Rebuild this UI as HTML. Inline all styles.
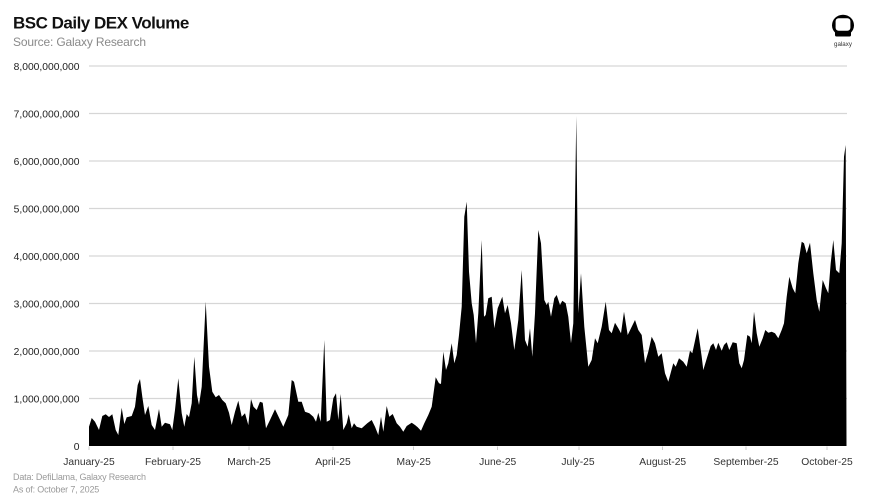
<!DOCTYPE html>
<html>
<head>
<meta charset="utf-8">
<style>
  html, body { margin: 0; padding: 0; background: #ffffff; }
  body { width: 875px; height: 500px; overflow: hidden; }
  svg { display: block; }
  text { font-family: "Liberation Sans", Arial, sans-serif; }
</style>
</head>
<body>
<svg width="875" height="500" viewBox="0 0 875 500" xmlns="http://www.w3.org/2000/svg">
  <rect x="0" y="0" width="875" height="500" fill="#ffffff"/>

  <!-- Title -->
  <text x="13" y="28.5" font-size="17" font-weight="bold" letter-spacing="-0.5" fill="#111111">BSC Daily DEX Volume</text>
  <text x="13" y="46" font-size="12" letter-spacing="-0.17" fill="#8a8a8a">Source: Galaxy Research</text>

  <!-- Logo -->
  <g>
    <ellipse cx="843" cy="25.3" rx="11" ry="10.6" fill="#000000"/>
    <rect x="835" y="31" width="16" height="5.5" rx="1.5" fill="#000000"/>
    <rect x="835.6" y="18.3" width="14.8" height="12.4" rx="3" fill="#ffffff"/>
    <text x="843" y="46" font-size="6.2" text-anchor="middle" fill="#333333">galaxy</text>
  </g>

  <!-- Gridlines -->
  <g stroke="#d6d6d6" stroke-width="1.2">
    <line x1="89" y1="66" x2="847" y2="66"/>
    <line x1="89" y1="113.5" x2="847" y2="113.5"/>
    <line x1="89" y1="161" x2="847" y2="161"/>
    <line x1="89" y1="208.5" x2="847" y2="208.5"/>
    <line x1="89" y1="256" x2="847" y2="256"/>
    <line x1="89" y1="303.5" x2="847" y2="303.5"/>
    <line x1="89" y1="351" x2="847" y2="351"/>
    <line x1="89" y1="398.5" x2="847" y2="398.5"/>
  </g>

  <!-- Y labels -->
  <g font-size="10.3" fill="#222222" text-anchor="end">
    <text x="79.5" y="69.8">8,000,000,000</text>
    <text x="79.5" y="117.3">7,000,000,000</text>
    <text x="79.5" y="164.8">6,000,000,000</text>
    <text x="79.5" y="212.3">5,000,000,000</text>
    <text x="79.5" y="259.8">4,000,000,000</text>
    <text x="79.5" y="307.3">3,000,000,000</text>
    <text x="79.5" y="354.8">2,000,000,000</text>
    <text x="79.5" y="402.3">1,000,000,000</text>
    <text x="79.5" y="449.8">0</text>
  </g>

  <!-- Area -->
  <path fill="#000000" d="M89,446 L89,426.7 L91.7,418 L95,421.7 L99,430 L102.3,416 L105.7,414.3 L109,417 L112.3,414.3 L115.7,430 L118.3,435 L121.7,407.7 L124.3,424 L126.7,417.3 L131.7,416 L135,406.7 L137.7,385 L140,379 L142.3,396.7 L145,415 L148.3,406 L151.7,425 L155,430 L159,409 L161.7,426.7 L165,422.7 L170,424.3 L172.3,430 L175,410 L178.3,378.3 L181.7,413.3 L184.3,426.7 L186.7,414 L189,417.3 L191.7,403.3 L194.3,356.7 L197,395 L199,405 L201.7,386.7 L205.7,301.7 L209,366.7 L212.3,391.7 L215.7,397.3 L219,395 L222.3,400 L225.7,403.3 L229,412.7 L231.7,425 L235,411.7 L238.3,400.7 L241.7,416.7 L245,413.3 L248.3,425 L251,399 L253.5,406.7 L256.7,410 L260,401.7 L262.7,402.7 L266,428.3 L270,420 L275,409.3 L279.3,418.3 L283.3,426.7 L288.3,415 L291.7,380 L294,381.7 L298.3,401.7 L301.7,401.7 L305,411.7 L309.3,413.3 L313.3,416.7 L316,421.7 L318.3,412.7 L320.7,421.7 L324.3,340 L326.7,421.7 L330,420 L333.3,398.3 L336,393.3 L338.3,420 L340.7,394 L343.3,430 L346.7,423.3 L348.7,414.3 L351.7,428.3 L354,423.3 L356.7,426.7 L361.7,428.3 L367.3,423.3 L371.7,420 L375,426.7 L378.3,435 L381,416.7 L383.3,431.7 L386.7,406 L389.3,416.7 L392.7,414 L396.7,423.3 L400,426.7 L403.3,431.7 L406.7,426 L411.7,422.7 L415,425 L417.7,427.3 L421,430.7 L424.3,423.3 L428.3,415 L431.7,406.7 L435.7,377.3 L439,383.3 L441,384 L443.3,351.7 L446,370 L448.3,363.3 L451.7,343.3 L454.3,363.3 L456.7,355 L459,335 L461.7,306.7 L464.3,216.7 L466.7,201.7 L469,271.7 L471.7,303.3 L473.7,315 L476,343.3 L478.3,313.3 L481.7,240 L484,316.7 L485.7,315 L488.3,298.3 L491.7,296.7 L494.3,328.3 L497.7,308.3 L502.3,296.7 L505,313.3 L507.7,305 L511,323.3 L514.3,350 L518.3,320 L521.7,270 L525,340 L527.7,346.7 L530,328.3 L532.3,356.7 L535,313.3 L538.3,230 L541,243.3 L544.3,300 L546.7,305 L548.3,301.7 L551,316.7 L554.3,298.3 L556.7,295 L560,305 L562.3,300.7 L565.7,303.3 L568.3,316.7 L571,343.3 L573.3,323.3 L576.3,116 L578.3,313.3 L581,273.3 L584.3,326.7 L588.3,366.7 L591.7,360 L595,338.3 L597.7,343.3 L601.7,326.7 L605.7,301.7 L609,330 L611.7,333.3 L615,322.7 L618.3,328.3 L621,333.3 L624,311.7 L627.7,335 L631,328.3 L635,320 L638.3,330 L641.7,335 L645,363.3 L648.3,351.7 L651.7,336.7 L655,343.3 L658.3,356.7 L661.7,353.3 L665,373.3 L668.3,381.7 L673.3,363.3 L675.7,366.7 L679,358.3 L683.3,361.7 L686.7,366.7 L690,350.7 L692.3,353.3 L697.7,328.3 L701.7,356.7 L703.3,370 L707.3,356.7 L710.7,346 L713.3,343.3 L716,350 L718.3,342.7 L721.7,350.7 L724,345 L726.7,342.3 L729.3,350 L732.7,342.3 L736.7,343.3 L739.3,363.3 L741.7,368.3 L744,360 L747.3,335 L750,336.7 L751.7,343.3 L754,311.7 L756.7,333.3 L759.3,346.7 L762.7,338.3 L765.3,330 L768.3,332.7 L771.7,331.7 L775,333.3 L778.3,338.3 L781.7,330 L784,323.3 L786.7,296.7 L789.3,276.7 L792.7,288.3 L795.3,293.3 L798.3,263.3 L801.7,241.7 L804,243.3 L806.7,253.3 L810,242.7 L813.3,273.3 L816.7,300 L819.3,311.7 L822.7,280 L826,288.3 L828.3,293.3 L830.7,263.3 L833.3,240 L836,270 L839.3,273.3 L841.7,243.3 L844,156.7 L845.7,145 L846.5,446 Z"/>

  <!-- X ticks -->
  <g stroke="#cccccc" stroke-width="1">
    <line x1="89" y1="446.5" x2="89" y2="450"/>
    <line x1="173" y1="446.5" x2="173" y2="450"/>
    <line x1="249" y1="446.5" x2="249" y2="450"/>
    <line x1="333" y1="446.5" x2="333" y2="450"/>
    <line x1="413.5" y1="446.5" x2="413.5" y2="450"/>
    <line x1="497.5" y1="446.5" x2="497.5" y2="450"/>
    <line x1="579" y1="446.5" x2="579" y2="450"/>
    <line x1="662.5" y1="446.5" x2="662.5" y2="450"/>
    <line x1="746" y1="446.5" x2="746" y2="450"/>
    <line x1="827" y1="446.5" x2="827" y2="450"/>
  </g>

  <!-- X labels -->
  <g font-size="10.3" fill="#333333" text-anchor="middle">
    <text x="89" y="465">January-25</text>
    <text x="173" y="465">February-25</text>
    <text x="249" y="465">March-25</text>
    <text x="333" y="465">April-25</text>
    <text x="413.7" y="465">May-25</text>
    <text x="497.7" y="465">June-25</text>
    <text x="578" y="465">July-25</text>
    <text x="662.7" y="465">August-25</text>
    <text x="746" y="465">September-25</text>
    <text x="827" y="465">October-25</text>
  </g>

  <!-- Footer -->
  <g font-size="9" fill="#9a9a9a" letter-spacing="-0.18">
    <text x="13" y="480">Data: DefiLlama, Galaxy Research</text>
    <text x="13" y="492.5">As of: October 7, 2025</text>
  </g>
</svg>
</body>
</html>
